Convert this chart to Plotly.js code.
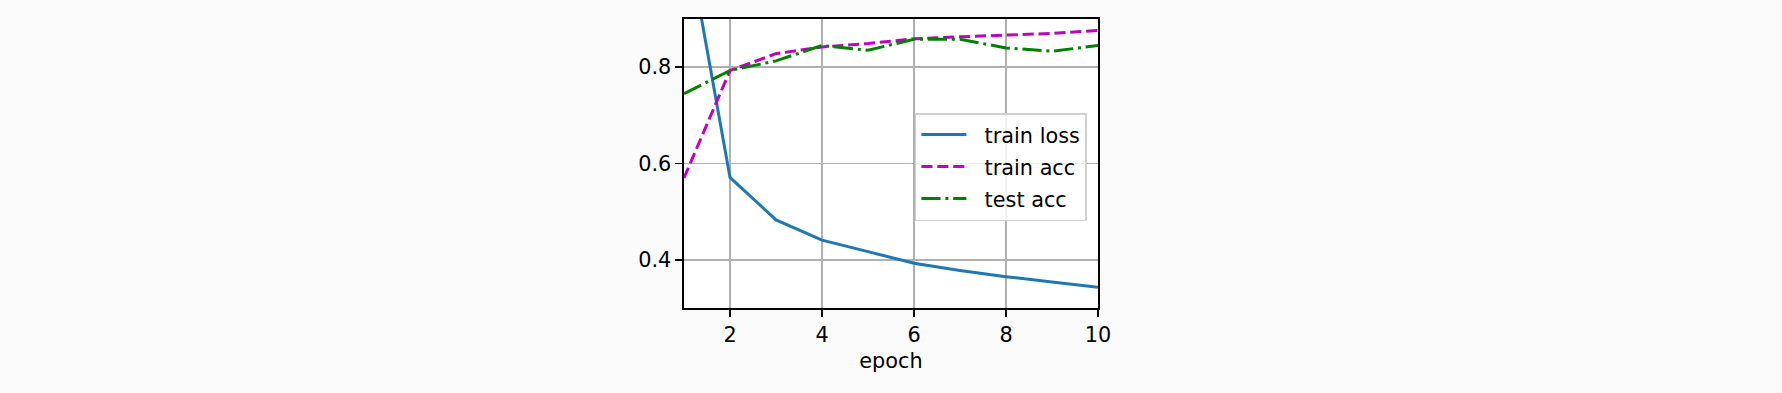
<!DOCTYPE html>
<html>
<head>
<meta charset="utf-8">
<script src="https://cdn.plot.ly/plotly-3.0.1.min.js"></script>
<style>
html,body{margin:0;padding:0;background:#fafafa;}
#chart{width:1782px;height:393px;}
</style>
</head>
<body>
<div id="chart"></div>
<script>
const epochs = [1, 2, 3, 4, 5, 6, 7, 8, 9, 10];
const trainLoss = [1.103, 0.571, 0.483, 0.441, 0.417, 0.393, 0.378, 0.365, 0.354, 0.343];
const trainAcc = [0.570, 0.793, 0.828, 0.842, 0.849, 0.859, 0.863, 0.866, 0.870, 0.876];
const testAcc = [0.745, 0.793, 0.813, 0.845, 0.835, 0.858, 0.858, 0.840, 0.833, 0.845];
const seriesNames = ["train loss", "train acc", "test acc"];
const xTicks = [2, 4, 6, 8, 10];
const yTicks = [0.4, 0.6, 0.8];

const font = "DejaVu Sans, sans-serif";
const fs = 20.8;
const pad = "\u00a0\u00a0";

const traces = [
  {x: epochs, y: trainLoss, name: pad + seriesNames[0], mode: "lines", legendgroup: "a",
   line: {color: "#1f77b4", width: 3}},
  {x: epochs, y: trainAcc, name: pad + seriesNames[1], mode: "lines", legendgroup: "b",
   line: {color: "#bf00bf", width: 3, dash: "11.1px,4.8px"}},
  {x: epochs, y: testAcc, name: pad + seriesNames[2], mode: "lines", legendgroup: "c",
   line: {color: "#008000", width: 3, dash: "19.2px,4.8px,3px,4.8px"}}
];

const axisCommon = {
  showline: true, linecolor: "#000", linewidth: 1.6, mirror: true,
  showgrid: true, gridcolor: "#b0b0b0", gridwidth: 1.6,
  ticks: "outside", ticklen: 7, tickwidth: 1.6, tickcolor: "#000",
  zeroline: false,
  tickfont: {family: font, size: fs, color: "#000"}
};

const layout = {
  width: 1782, height: 393,
  paper_bgcolor: "#fafafa", plot_bgcolor: "#ffffff",
  margin: {l: 684.3, r: 684, t: 19.3, b: 84.7, pad: 0},
  showlegend: true,
  font: {family: font, size: fs, color: "#000"},
  xaxis: Object.assign({}, axisCommon, {
    range: [1, 10], tickmode: "array", tickvals: xTicks,
    ticktext: xTicks.map(String),
    title: {text: "epoch", font: {family: font, size: fs, color: "#000"}, standoff: 8}
  }),
  yaxis: Object.assign({}, axisCommon, {
    range: [0.3, 0.9], tickmode: "array", tickvals: yTicks,
    ticktext: yTicks.map(v => v.toFixed(1))
  }),
  legend: {
    x: 0.5577, y: 0.6747, xanchor: "left", yanchor: "top",
    bgcolor: "rgba(255,255,255,0.8)", bordercolor: "#d0d0d0", borderwidth: 1.5,
    font: {family: font, size: fs, color: "#000"},
    itemwidth: 45, tracegroupgap: 2
  }
};

Plotly.newPlot("chart", traces, layout, {displayModeBar: false, staticPlot: true});
</script>
</body>
</html>
